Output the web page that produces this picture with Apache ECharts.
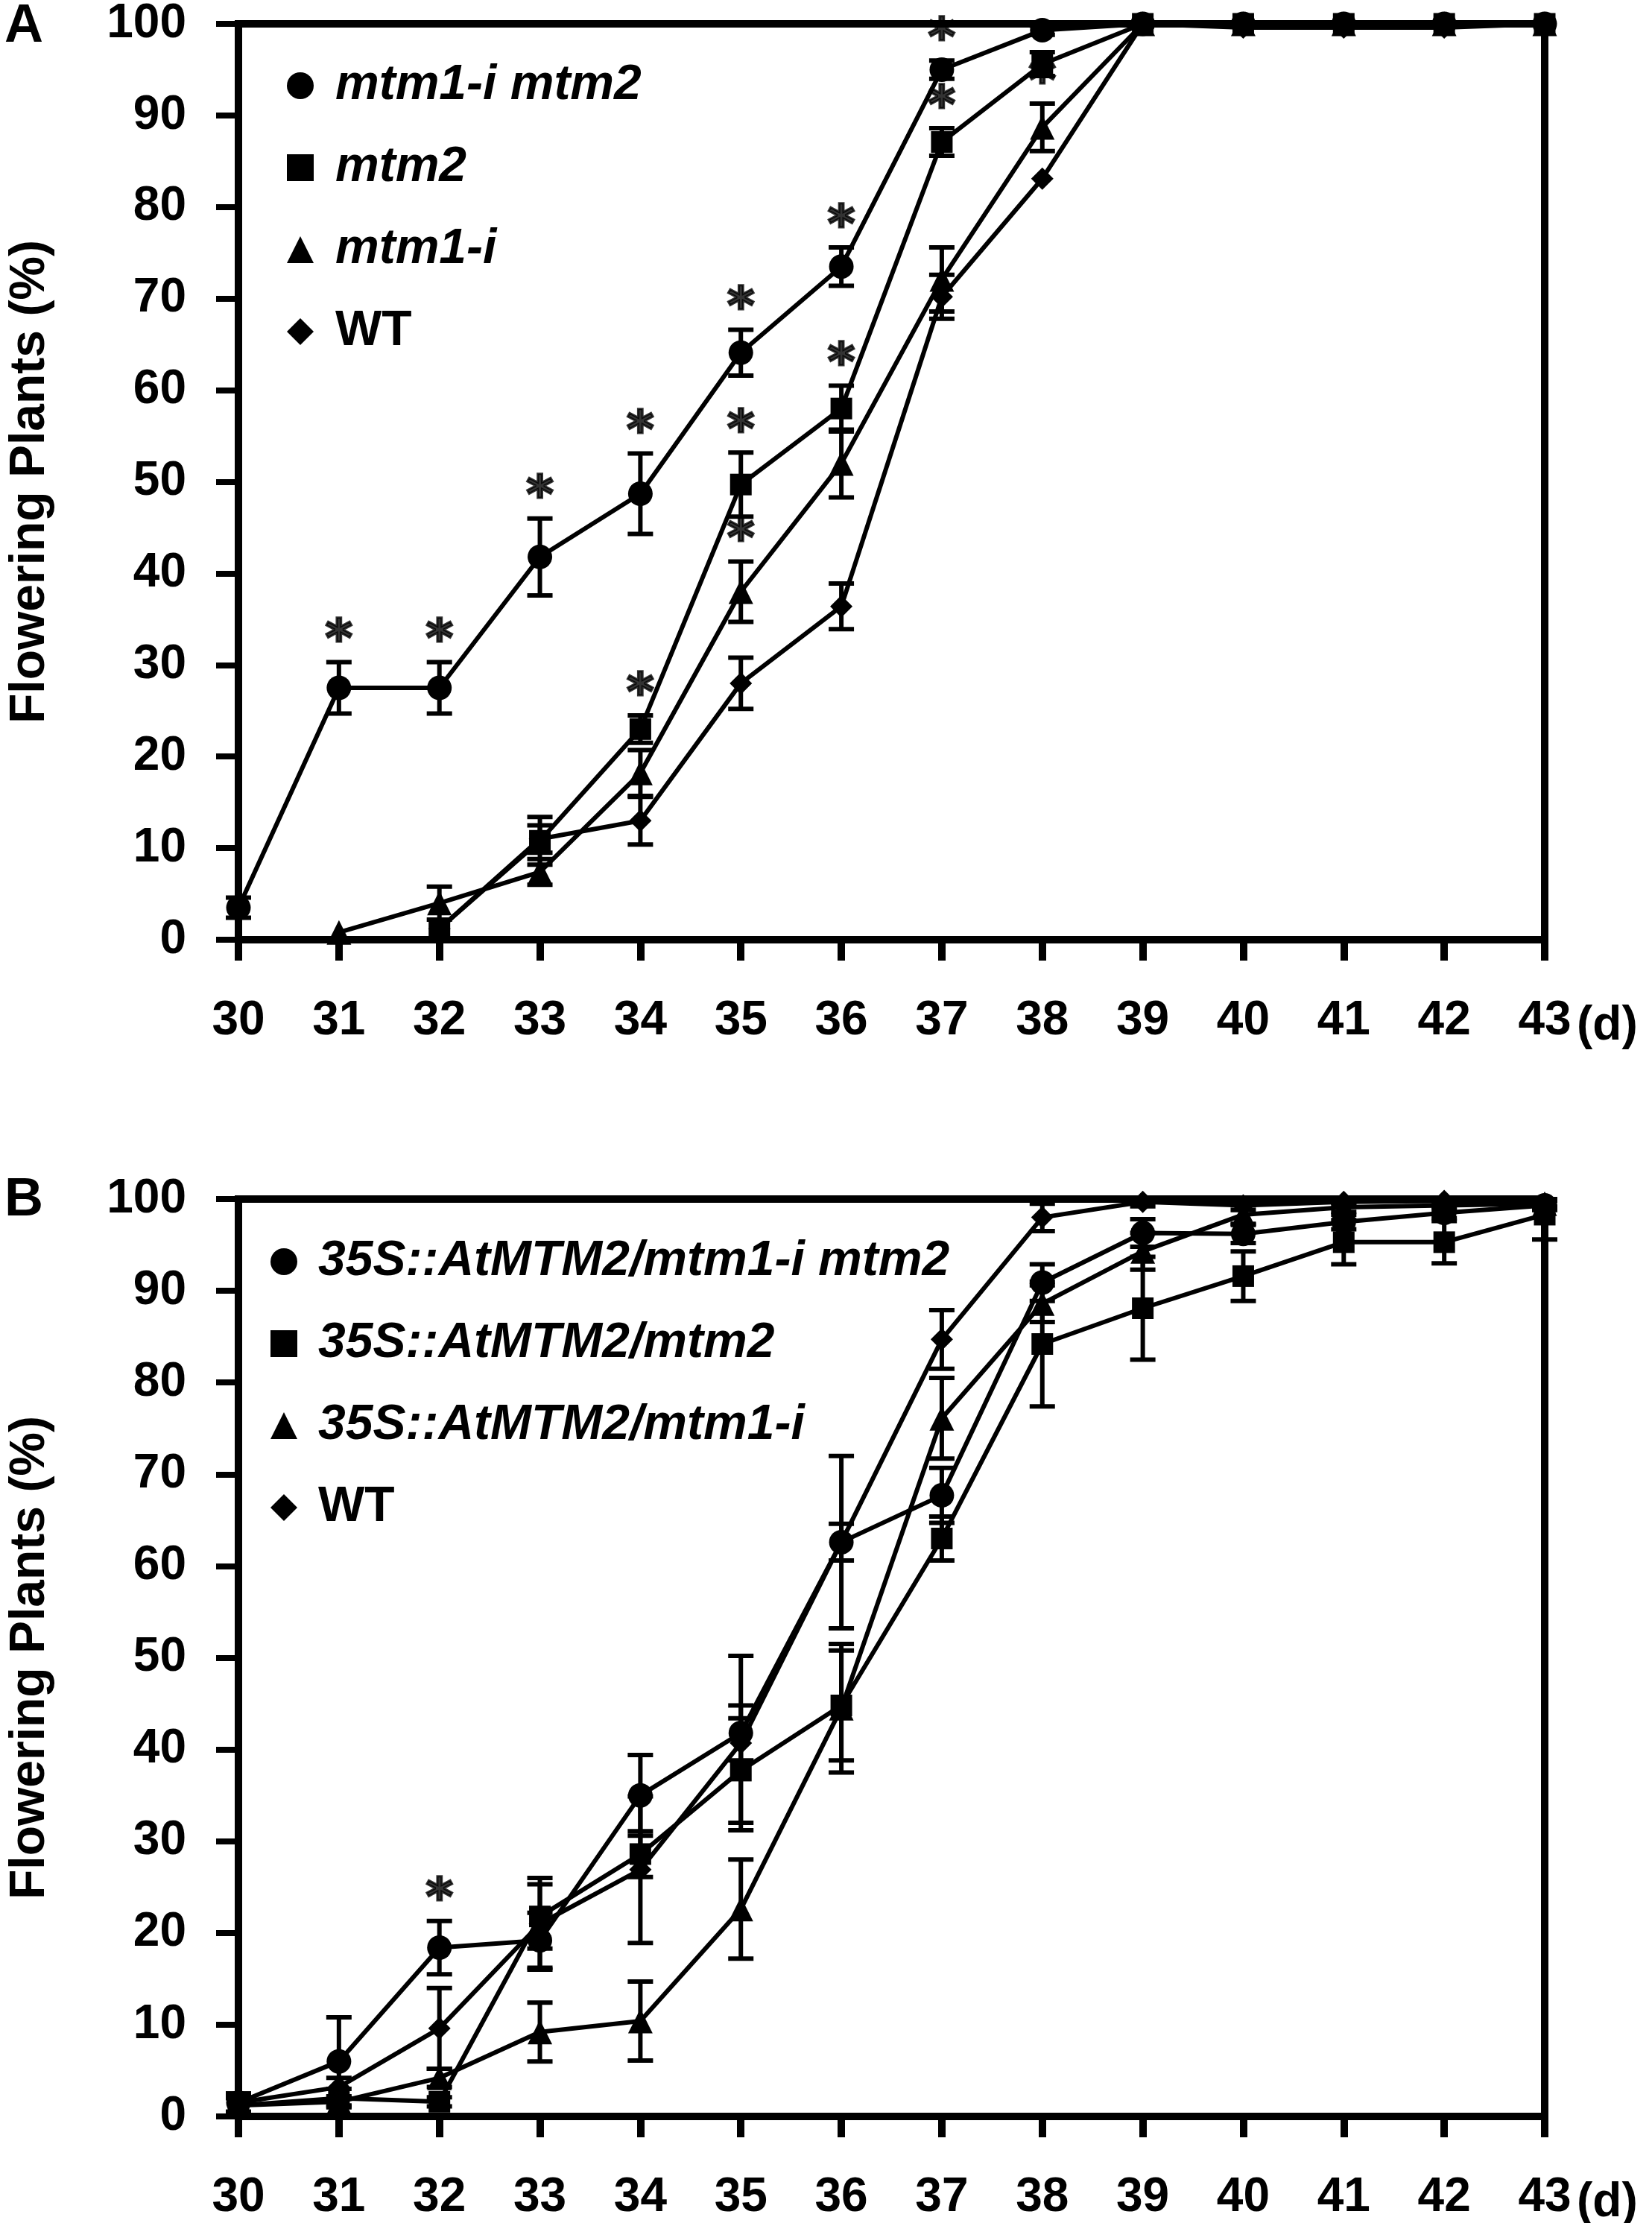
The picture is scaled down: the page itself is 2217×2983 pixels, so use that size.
<!DOCTYPE html>
<html>
<head>
<meta charset="UTF-8">
<title>Flowering Plants</title>
<script src="https://cdn.jsdelivr.net/npm/echarts@6/dist/echarts.min.js"></script>
<style>
    body { margin: 0; padding: 0; background: #fff; }
    #chart { width: 2217px; height: 2983px; }
</style>
</head>
<body>
<div id="chart"></div>
<script>
    // days (x axis)
    const days = [30, 31, 32, 33, 34, 35, 36, 37, 38, 39, 40, 41, 42, 43];
    const yTicks = [0, 10, 20, 30, 40, 50, 60, 70, 80, 90, 100];

    // panel A - mean % and error
    const namesA = ['mtm1-i mtm2', 'mtm2', 'mtm1-i', 'WT'];
    const dkA = [3.5, 27.5, 27.5, 41.8, 48.7, 64.1, 73.5, 95, 99.3, 100, 100, 100, 100, 100];
    const dkAErr = [1.1, 2.8, 2.8, 4.2, 4.4, 2.5, 2.1, 1.0, 0.5, 0, 0, 0, 0, 0];
    const m2A = [null, null, 1.2, 10.8, 23.0, 49.7, 58, 87.1, 95.6, 100, 100, 100, 100, 100];
    const m2AErr = [0, 0, 0, 2.6, 1.5, 3.5, 2.5, 1.5, 1.3, 0, 0, 0, 0, 0];
    const m1A = [null, 0.8, 4.0, 7.4, 18.2, 38, 52, 72.1, 88.7, 100, 100, 100, 100, 100];
    const m1AErr = [0, 0, 1.8, 1.4, 2.5, 3.3, 3.7, 3.5, 2.6, 0, 0, 0, 0, 0];
    const wtA = [null, null, 1.2, 11.0, 13.0, 28, 36.4, 70.2, 83.1, 100, 99.6, 99.6, 99.6, 100];
    const wtAErr = [0, 0, 0, 1.5, 2.6, 2.8, 2.5, 2.4, 0, 0, 0, 0, 0, 0];
    // days with a significance star, per series
    const starA = [
        [31, 32, 33, 34, 35, 36, 37],
        [34, 35, 36, 37],
        [35, 38],
        []
    ];

    // panel B
    const namesB = ['35S::AtMTM2/mtm1-i mtm2', '35S::AtMTM2/mtm2', '35S::AtMTM2/mtm1-i', 'WT'];
    const dkB = [1.5, 6.0, 18.4, 19.2, 35, 41.8, 62.6, 67.7, 90.9, 96.3, 96.2, 97.5, 98.5, 99.3];
    const dkBErr = [1.0, 4.8, 2.9, 3.0, 4.4, 3.0, 2.0, 3.0, 2.0, 1.5, 1.0, 0.8, 0.6, 0.5];
    const m2B = [1.2, 2.0, 1.6, 21.8, 28.6, 37.7, 44.8, 63, 84.2, 88.1, 91.6, 95.3, 95.3, 98.3];
    const m2BErr = [1.0, 1.0, 0.5, 3.5, 2.5, 5.7, 6.0, 2.4, 6.8, 5.6, 2.7, 2.4, 2.3, 2.7];
    const m1B = [1.2, 1.6, 4.2, 9.2, 10.4, 22.6, 44.5, 76.1, 88.6, 94.3, 98.3, 99.1, 99.3, 99.5];
    const m1BErr = [0.8, 0.5, 1.0, 3.2, 4.3, 5.4, 7.0, 4.4, 2.0, 2.0, 1.0, 0.5, 0.5, 0.5];
    const wtB = [1.5, 3.2, 9.6, 21, 26.9, 40.7, 62.6, 84.7, 98, 99.7, 99.3, 99.7, 99.8, 99.5];
    const wtBErr = [1.0, 1.0, 4.4, 5.0, 8.0, 9.5, 9.4, 3.2, 1.5, 0.5, 0.5, 0.3, 0.3, 0.3];
    const starB = [[32], [], [], []];

    const symbols = ['circle', 'rect', 'triangle', 'diamond'];
    const symSizes = [33, 29, 33, 30];
    const FONT = 'Liberation Sans, Arial, sans-serif';

    const chart = echarts.init(document.getElementById('chart'), null, { renderer: 'canvas' });

    function pairs(vals) {
        const out = [];
        days.forEach((d, i) => { if (vals[i] != null) out.push([d, vals[i]]); });
        return out;
    }
    function errPoints(vals, errs) {
        const out = [];
        days.forEach((d, i) => { if (vals[i] != null && errs[i] > 0) out.push([d, vals[i], errs[i]]); });
        return out;
    }

    // vertical bar with caps
    function renderErr(params, api) {
        const x = api.value(0), m = api.value(1), e = api.value(2);
        const hi = api.coord([x, Math.min(m + e, 100)]);
        const lo = api.coord([x, m - e]);
        const w = 17;
        const st = { stroke: '#000', lineWidth: 6 };
        return {
            type: 'group',
            children: [
                { type: 'line', shape: { x1: hi[0], y1: hi[1], x2: lo[0], y2: lo[1] }, style: st },
                { type: 'line', shape: { x1: hi[0] - w, y1: hi[1], x2: hi[0] + w, y2: hi[1] }, style: st },
                { type: 'line', shape: { x1: lo[0] - w, y1: lo[1], x2: lo[0] + w, y2: lo[1] }, style: st }
            ]
        };
    }

    function panelSeries(idx, names, means, errs, stars) {
        const list = [];
        names.forEach((n, k) => {
            list.push({
                name: n, type: 'line', xAxisIndex: idx, yAxisIndex: idx,
                data: pairs(means[k]),
                symbol: symbols[k], symbolSize: symSizes[k], showAllSymbol: true,
                itemStyle: { color: '#000' },
                lineStyle: { color: '#000', width: 6 },
                z: 3
            });
            list.push({
                type: 'custom', xAxisIndex: idx, yAxisIndex: idx,
                data: errPoints(means[k], errs[k]),
                renderItem: renderErr, silent: true, z: 2
            });
            if (stars[k].length) {
                list.push({
                    type: 'scatter', xAxisIndex: idx, yAxisIndex: idx, silent: true,
                    data: stars[k].map(d => {
                        const i = days.indexOf(d);
                        return [d, means[k][i] + errs[k][i]];
                    }),
                    symbolSize: 1,
                    itemStyle: { color: 'rgba(0,0,0,0)' },
                    label: {
                        show: true, formatter: '*', position: 'top', distance: -4,
                        color: '#000', fontSize: 70, fontWeight: 'bold', fontFamily: 'DejaVu Sans',
                        lineHeight: 60, textBorderColor: '#000', textBorderWidth: 3
                    },
                    z: 4
                });
            }
        });
        return list;
    }

    function makeX(idx) {
        return {
            gridIndex: idx, type: 'value', min: 30, max: 43, interval: 1,
            axisLine: { lineStyle: { color: '#000', width: 10 } },
            axisTick: { length: 28, lineStyle: { color: '#000', width: 10 } },
            axisLabel: { margin: 77, color: '#000', fontSize: 64, fontWeight: 'bold', fontFamily: FONT },
            splitLine: { show: false }
        };
    }
    function makeY(idx) {
        return {
            gridIndex: idx, type: 'value', min: 0, max: 100, interval: 10,
            name: 'Flowering Plants (%)', nameLocation: 'middle', nameGap: 246,
            nameTextStyle: { color: '#000', fontSize: 66, fontWeight: 'bold', fontFamily: FONT },
            axisLine: { lineStyle: { color: '#000', width: 10 } },
            axisTick: { length: 30, lineStyle: { color: '#000', width: 8 } },
            axisLabel: { margin: 70, color: '#000', fontSize: 64, fontWeight: 'bold', fontFamily: FONT,
                formatter: v => yTicks.includes(v) ? String(v) : '' },
            splitLine: { show: false }
        };
    }

    function makeLegend(names, left, top, pad) {
        return {
            orient: 'vertical', left: left, top: top,
            itemWidth: 36, itemHeight: 36, itemGap: 44,
            selectedMode: false,
            data: names.map((n, k) => ({
                name: n, icon: symbols[k],
                itemStyle: { color: '#000' },
                textStyle: { fontStyle: n === 'WT' ? 'normal' : 'italic' }
            })),
            textStyle: { color: '#000', fontSize: 66, fontWeight: 'bold', fontFamily: FONT,
                lineHeight: 66, padding: [0, 0, 0, pad] }
        };
    }

    const option = {
        animation: false,
        backgroundColor: '#fff',
        grid: [
            { left: 318, top: 30, width: 1755, height: 1231, show: true, borderColor: '#000', borderWidth: 10 },
            { left: 318, top: 1609, width: 1755, height: 1231, show: true, borderColor: '#000', borderWidth: 10 }
        ],
        xAxis: [makeX(0), makeX(1)],
        yAxis: [makeY(0), makeY(1)],
        legend: [
            makeLegend(namesA, 380, 77, 24),
            makeLegend(namesB, 358, 1655, 23)
        ],
        graphic: [
            { type: 'text', left: 6, top: 0, style: { text: 'A', fontSize: 72, fontWeight: 'bold', fontFamily: FONT, fill: '#000' } },
            { type: 'text', left: 6, top: 1575, style: { text: 'B', fontSize: 72, fontWeight: 'bold', fontFamily: FONT, fill: '#000' } },
            { type: 'text', left: 2116, top: 1345, style: { text: '(d)', fontSize: 64, fontWeight: 'bold', fontFamily: FONT, fill: '#000' } },
            { type: 'text', left: 2116, top: 2924, style: { text: '(d)', fontSize: 64, fontWeight: 'bold', fontFamily: FONT, fill: '#000' } }
        ],
        series: [].concat(
            panelSeries(0, namesA, [dkA, m2A, m1A, wtA], [dkAErr, m2AErr, m1AErr, wtAErr], starA),
            panelSeries(1, namesB, [dkB, m2B, m1B, wtB], [dkBErr, m2BErr, m1BErr, wtBErr], starB)
        )
    };
    chart.setOption(option);
</script>
</body>
</html>
